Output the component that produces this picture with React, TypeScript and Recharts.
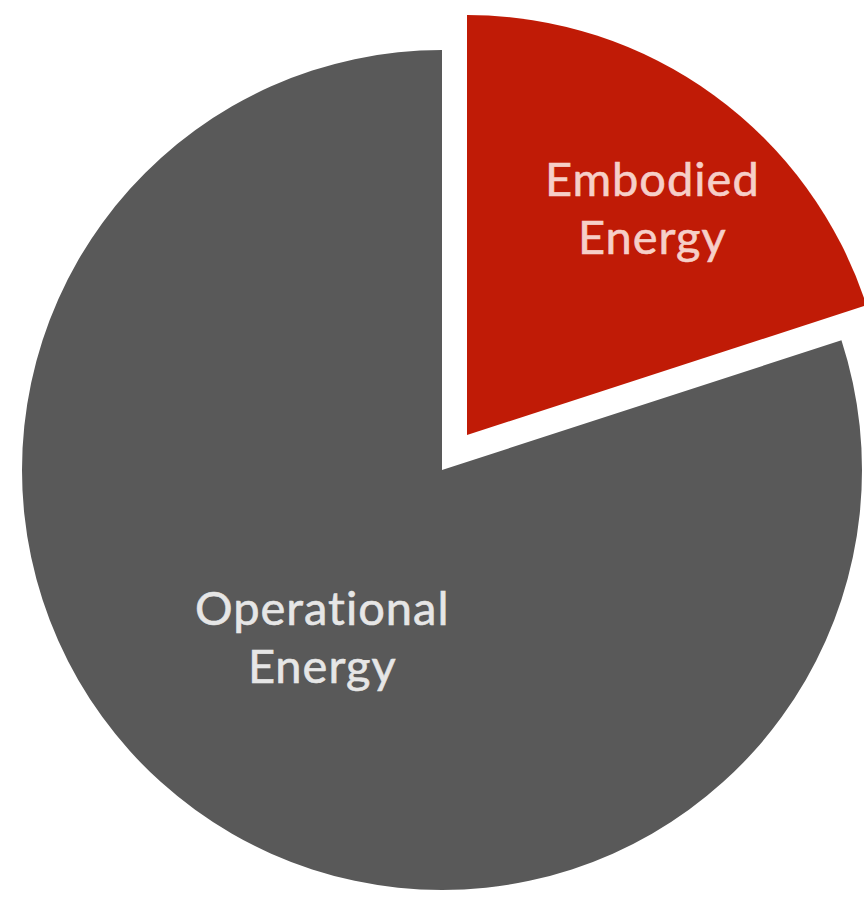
import React from 'react';
import { PieChart, Pie, Cell } from 'recharts';

const categories = ['Embodied Energy', 'Operational Energy'];
const values = [20, 80];
const labelLines = [['Embodied', 'Energy'], ['Operational', 'Energy']];

const data = categories.map((name, i) => ({ name, value: values[i] }));

const RED = '#C01B06';
const GRAY = '#595959';
const RAD = Math.PI / 180;

const makeLabel = (showIndex: number, ratio: number, color: string, dx: number, dy: number) => (props: any) => {
  const { cx, cy, midAngle, outerRadius, index } = props;
  if (index !== showIndex) return <g />;
  const r = outerRadius * ratio;
  const x = cx + r * Math.cos(-midAngle * RAD) + dx;
  const y = cy + r * Math.sin(-midAngle * RAD) + dy;
  const lines = labelLines[index];
  return (
    <text
      x={x}
      y={y}
      fill={color}
      textAnchor="middle"
      fontFamily="Lato, 'Open Sans', sans-serif"
      fontSize={47}
      letterSpacing={1}
      stroke={color}
      strokeWidth={0.6}
    >
      <tspan x={x} dy={-10}>{lines[0]}</tspan>
      <tspan x={x} dy={58}>{lines[1]}</tspan>
    </text>
  );
};

export default function App() {
  return (
    <div style={{ position: 'absolute', left: 0, top: 0, width: 864, height: 897, background: '#fff' }}>
      <PieChart width={864} height={897} margin={{ top: 0, right: 0, bottom: 0, left: 0 }}>
        <Pie
          data={data}
          dataKey="value"
          nameKey="name"
          cx={442}
          cy={470}
          outerRadius={420}
          startAngle={90}
          endAngle={-270}
          stroke="none"
          isAnimationActive={false}
          labelLine={false}
          label={makeLabel(1, 0.485, '#E6E6E6', 0, 0)}
        >
          <Cell fill="transparent" />
          <Cell fill={GRAY} />
        </Pie>
        <Pie
          data={data}
          dataKey="value"
          nameKey="name"
          cx={467}
          cy={435}
          outerRadius={420}
          startAngle={90}
          endAngle={-270}
          stroke="none"
          isAnimationActive={false}
          labelLine={false}
          label={makeLabel(0, 0.69, '#F6CFC8', 15, 5)}
        >
          <Cell fill={RED} />
          <Cell fill="transparent" />
        </Pie>
      </PieChart>
    </div>
  );
}
